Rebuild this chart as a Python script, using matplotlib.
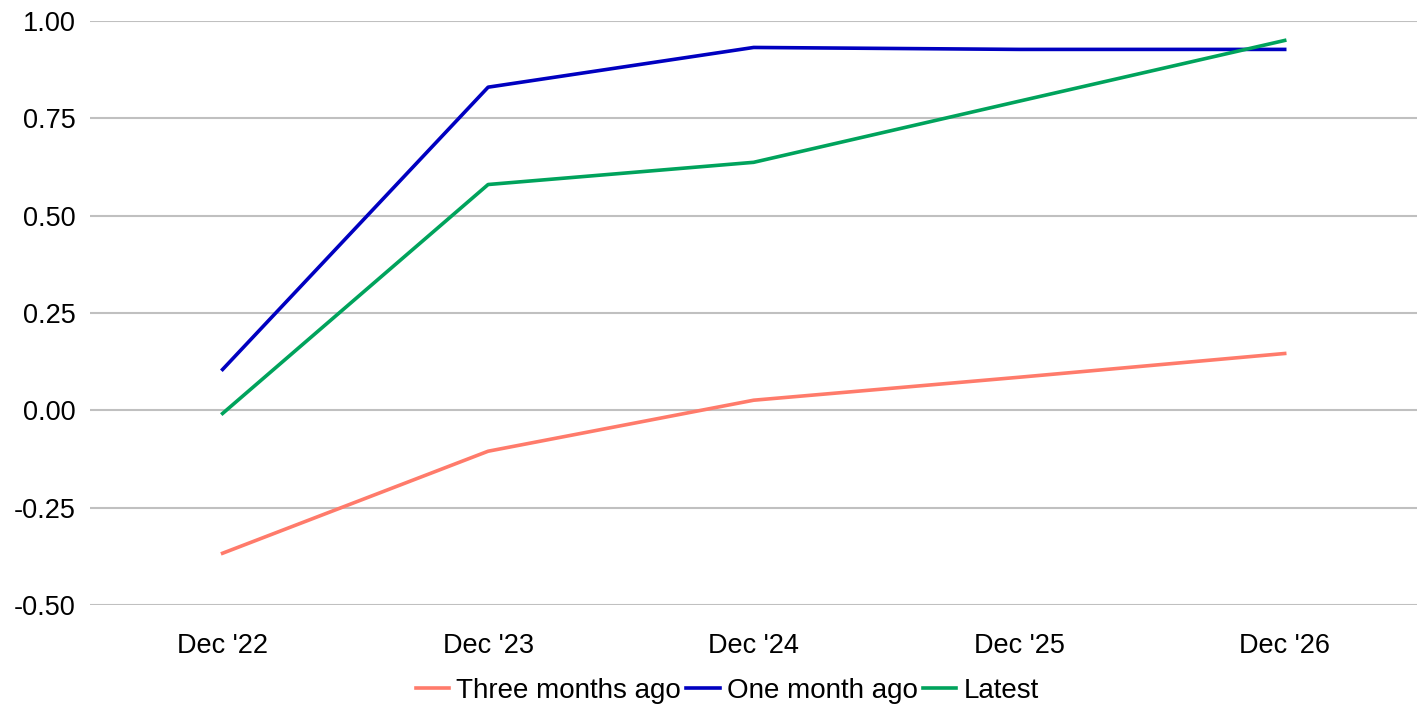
import numpy as np
import matplotlib.pyplot as plt

plt.rcParams['font.family'] = ['Liberation Sans', 'DejaVu Sans']

# Daten
labels = ["Dec '22", "Dec '23", "Dec '24", "Dec '25", "Dec '26"]
three_months_ago = [-0.367, -0.105, 0.026, 0.085, 0.146]
one_month_ago = [0.105, 0.830, 0.932, 0.927, 0.927]
latest = [-0.008, 0.580, 0.637, 0.794, 0.950]

x = np.arange(len(labels))

fig = plt.figure(figsize=(14.26, 7.04), dpi=100)
ax = fig.add_axes([0.063, 0.1406, 0.931, 0.8296])

ax.plot(x, three_months_ago, color='#FF7B6B', lw=2.6, label='Three months ago')
ax.plot(x, one_month_ago, color='#0000C0', lw=2.6, label='One month ago')
ax.plot(x, latest, color='#00A35C', lw=2.6, label='Latest')

ax.set_xlim(-0.5, 4.5)
ax.set_ylim(-0.5, 1.0)
ax.set_yticks(np.arange(-0.5, 1.01, 0.25))
ax.set_yticklabels([f'{v:.2f}' for v in np.arange(-0.5, 1.01, 0.25)])
ax.set_xticks(x)
ax.set_xticklabels(labels)
ax.tick_params(axis='both', length=0, labelsize=19.5)
ax.tick_params(axis='x', pad=20)
ax.tick_params(axis='y', pad=10)

ax.grid(axis='y', color='#C0C0C0', lw=1.5)
ax.set_axisbelow(True)
for s in ax.spines.values():
    s.set_visible(False)

fig.legend(loc='lower center', bbox_to_anchor=(0.51, -0.035), ncol=3, frameon=False,
           fontsize=20, handlelength=1.2, handletextpad=0.25, columnspacing=0.2)

fig.savefig('out.png', dpi=100)
